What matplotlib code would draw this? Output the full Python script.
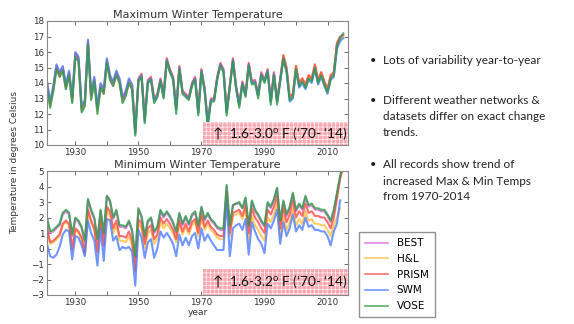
import numpy as np
import matplotlib.pyplot as plt
from matplotlib.patches import Rectangle
from matplotlib.lines import Line2D

# ============== data ==============
YEARS = np.arange(1921, 2016)   # winters 1921..2015

# maximum winter temperature, degC
MAX_BEST = [13.8, 12.5, 13.5, 14.9, 14.4, 14.8, 13.6, 14.5, 12.8, 15.7,
            15.4, 12.2, 12.6, 16.5, 13.0, 14.1, 12.2, 13.7, 13.3, 15.3,
            14.2, 13.8, 14.5, 14.0, 12.8, 13.2, 14.0, 13.6, 10.7, 14.1,
            14.4, 11.5, 14.0, 14.2, 12.8, 13.1, 14.1, 13.1, 15.4, 14.7,
            14.3, 12.3, 15.0, 13.4, 13.2, 13.0, 13.9, 14.3, 12.1, 14.8,
            13.6, 11.4, 12.9, 12.9, 14.3, 15.2, 14.8, 12.1, 13.8, 15.5,
            13.7, 12.6, 14.0, 13.2, 15.2, 14.0, 14.1, 13.2, 14.6, 14.1,
            14.8, 12.8, 14.6, 12.8, 14.2, 15.7, 14.9, 13.0, 13.2, 15.0,
            13.9, 14.2, 13.8, 14.4, 14.2, 15.1, 14.1, 14.6, 14.0, 13.5,
            14.4, 14.6, 16.5, 16.9, 17.1]
MAX_HL = [13.9, 12.6, 13.6, 15.0, 14.5, 14.9, 13.7, 14.6, 12.9, 15.8,
          15.5, 12.3, 12.7, 16.6, 13.1, 14.2, 12.3, 13.8, 13.4, 15.4,
          14.3, 13.9, 14.6, 14.1, 12.9, 13.3, 14.1, 13.7, 10.8, 14.2,
          14.5, 11.6, 14.1, 14.3, 12.9, 13.2, 14.2, 13.2, 15.5, 14.8,
          14.3, 12.3, 15.0, 13.4, 13.2, 13.0, 13.9, 14.3, 12.1, 14.8,
          13.6, 11.4, 12.9, 12.9, 14.3, 15.2, 14.8, 12.1, 13.8, 15.5,
          13.7, 12.6, 14.0, 13.2, 15.2, 14.0, 14.1, 13.2, 14.6, 14.1,
          14.8, 12.8, 14.6, 12.8, 14.2, 15.8, 15.0, 13.1, 13.3, 15.1,
          14.0, 14.3, 13.9, 14.5, 14.3, 15.2, 14.2, 14.7, 14.1, 13.6,
          14.5, 14.7, 16.5, 16.9, 17.1]
MAX_PRISM = [14.0, 12.7, 13.7, 15.1, 14.6, 15.0, 13.8, 14.7, 13.0, 15.9,
             15.6, 12.4, 12.8, 16.7, 13.2, 14.3, 12.4, 13.9, 13.5, 15.5,
             14.4, 14.0, 14.7, 14.2, 13.0, 13.4, 14.2, 13.8, 10.9, 14.3,
             14.6, 11.7, 14.2, 14.4, 13.0, 13.3, 14.3, 13.3, 15.6, 14.9,
             14.4, 12.4, 15.1, 13.5, 13.3, 13.1, 14.0, 14.4, 12.2, 14.9,
             13.7, 11.5, 13.0, 13.0, 14.4, 15.3, 14.9, 12.2, 13.9, 15.6,
             13.8, 12.7, 14.1, 13.3, 15.3, 14.1, 14.2, 13.3, 14.7, 14.2,
             14.9, 12.9, 14.7, 12.9, 14.3, 15.8, 15.0, 13.1, 13.3, 15.1,
             14.0, 14.3, 13.9, 14.5, 14.3, 15.2, 14.2, 14.7, 14.1, 13.6,
             14.5, 14.7, 16.6, 17.0, 17.1]
MAX_SWM = [14.1, 12.8, 13.8, 15.2, 14.7, 15.1, 13.9, 14.8, 13.1, 16.0,
           15.7, 12.5, 12.9, 16.8, 13.3, 14.4, 12.5, 14.0, 13.6, 15.6,
           14.5, 14.1, 14.8, 14.3, 13.1, 13.5, 14.3, 13.9, 10.8, 14.2,
           14.5, 11.6, 14.1, 14.3, 12.9, 13.2, 14.2, 13.2, 15.5, 14.8,
           14.3, 12.3, 15.0, 13.4, 13.2, 13.0, 13.9, 14.3, 12.1, 14.8,
           13.6, 11.4, 12.9, 12.9, 14.3, 15.2, 14.8, 12.1, 13.8, 15.5,
           13.7, 12.6, 14.0, 13.2, 15.2, 14.0, 14.1, 13.2, 14.6, 14.1,
           14.8, 12.8, 14.6, 12.8, 14.2, 15.5, 14.7, 12.8, 13.0, 14.8,
           13.7, 14.0, 13.6, 14.2, 14.0, 14.9, 13.9, 14.4, 13.8, 13.3,
           14.2, 14.4, 16.2, 16.7, 16.9]
MAX_VOSE = [13.8, 12.4, 13.5, 14.9, 14.4, 14.8, 13.6, 14.5, 12.7, 15.7,
            15.4, 12.1, 12.5, 16.5, 12.9, 14.1, 12.0, 13.7, 13.3, 15.3,
            14.2, 13.8, 14.5, 14.0, 12.7, 13.2, 14.0, 13.6, 10.6, 14.1,
            14.4, 11.4, 14.0, 14.2, 12.7, 13.1, 14.1, 13.0, 15.4, 14.7,
            14.2, 12.0, 14.9, 13.3, 13.1, 12.9, 13.8, 14.2, 11.9, 14.7,
            13.5, 11.1, 12.8, 12.8, 14.2, 15.1, 14.7, 11.9, 13.7, 15.4,
            13.6, 12.4, 13.9, 13.1, 15.1, 13.9, 14.0, 13.0, 14.5, 14.0,
            14.7, 12.6, 14.5, 12.6, 14.1, 15.6, 14.8, 12.9, 13.1, 14.9,
            13.8, 14.1, 13.7, 14.3, 14.1, 15.0, 14.0, 14.5, 13.9, 13.4,
            14.3, 14.5, 16.4, 16.9, 17.2]

# minimum winter temperature, degC (nan = no value)
MIN_BEST = [1.9, 1.0, 1.1, 1.3, 1.5, 2.2, 2.4, 2.2, 0.8, 1.9,
            1.7, 1.3, 0.4, 3.1, 2.4, 1.9, 0.5, 2.4, 0.9, 3.4,
            3.0, 1.9, 2.4, 1.4, 1.4, 1.3, 1.7, 1.1, -0.6, 2.5,
            2.0, 0.7, 1.7, 1.9, 1.0, 1.3, 2.4, 2.0, 2.3, 2.0,
            1.6, 1.0, 2.2, 1.5, 2.0, 1.5, 2.1, 2.3, 1.4, 2.6,
            1.8, 2.2, 1.8, 1.6, 1.3, 1.2, 1.2, 4.0, 1.4, 2.8,
            2.9, 2.9, 2.6, 3.2, 1.4, 3.0, 2.4, 2.1, 1.7, 1.4,
            2.9, 2.6, 3.1, 3.9, 1.7, 3.0, 2.1, 2.6, 3.5, 2.4,
            2.8, 2.5, 3.3, 2.7, 2.8, 2.5, 2.5, 2.4, 2.4, 2.1,
            1.7, 2.4, 3.5, 4.6, 5.3]
MIN_HL = [1.2, 0.3, 0.4, 0.6, 0.8, 1.5, 1.7, 1.5, -0.1, 1.2,
          1.0, 0.6, -0.4, 2.4, 1.7, 1.2, -0.3, 1.7, 0.1, 2.6,
          2.1, 1.0, 1.5, 0.5, 0.5, 0.4, 0.8, 0.2, -1.5, 1.6,
          1.3, 0.0, 1.0, 1.2, 0.3, 0.6, 1.7, 1.3, 1.6, 1.3,
          1.0, 0.4, 1.6, 0.9, 1.4, 0.9, 1.5, 1.7, 0.8, 2.0,
          1.2, 1.6, 1.2, 1.0, 0.7, 0.6, 0.6, 3.4, 0.8, 2.1,
          2.2, 2.3, 1.9, 2.6, 0.5, 2.1, 1.5, 1.2, 0.8, 0.5,
          2.0, 1.7, 2.2, 2.9, 0.8, 2.1, 1.2, 1.7, 2.6, 1.5,
          1.9, 1.6, 2.4, 1.8, 1.9, 1.6, 1.6, 1.5, 1.5, 1.2,
          0.8, 1.5, 2.0, 2.6, np.nan]
MIN_PRISM = [1.3, 0.4, 0.5, 0.7, 0.9, 1.6, 1.8, 1.6, 0.0, 1.3,
             1.1, 0.7, -0.3, 2.5, 1.8, 1.3, -0.2, 1.8, 0.2, 2.7,
             2.4, 1.3, 1.8, 0.8, 0.8, 0.7, 1.1, 0.5, -1.4, 1.9,
             1.6, 0.3, 1.3, 1.5, 0.6, 0.9, 2.0, 1.6, 1.9, 1.6,
             1.2, 0.6, 1.8, 1.1, 1.6, 1.1, 1.7, 1.9, 1.0, 2.2,
             1.4, 1.8, 1.4, 1.2, 0.9, 0.8, 0.8, 3.6, 1.0, 2.3,
             2.4, 2.5, 2.1, 2.8, 1.0, 2.6, 2.0, 1.7, 1.3, 1.0,
             2.5, 2.2, 2.7, 3.4, 1.3, 2.6, 1.7, 2.2, 3.1, 2.0,
             2.4, 2.1, 2.9, 2.3, 2.4, 2.1, 2.1, 2.0, 2.0, 1.7,
             1.3, 2.0, 3.2, 4.5, 5.3]
MIN_SWM = [0.3, -0.5, -0.6, -0.4, 0.1, 0.9, 1.2, 1.1, -0.7, 0.8,
           0.7, 0.2, -0.5, 1.8, 1.0, 0.5, -1.1, 1.3, -0.8, 1.9,
           1.8, 0.5, 0.8, -0.1, 0.1, 0.0, 0.1, -0.2, -2.4, 1.2,
           0.7, -0.6, 0.4, 0.6, -0.6, 0.0, 1.1, 0.7, 1.0, 0.7,
           0.3, -0.5, 0.9, 0.2, 0.7, 0.2, 0.8, 1.0, 0.0, 1.3,
           0.5, 0.9, 0.5, 0.2, -0.1, -0.1, -0.1, 3.2, -0.5, 1.3,
           1.5, 1.6, 1.2, 1.9, -0.4, 1.7, 1.1, 0.6, 0.3, -0.3,
           1.6, 1.3, 1.8, 2.5, 0.3, 1.7, 0.8, 1.3, 2.2, 1.1,
           1.5, 1.2, 2.0, 1.4, 1.5, 1.2, 1.2, 1.1, 1.1, 0.8,
           0.2, 1.1, 1.6, 3.1, np.nan]
MIN_VOSE = [2.0, 1.1, 1.2, 1.4, 1.6, 2.3, 2.5, 2.3, 0.9, 2.0,
            1.8, 1.4, 0.5, 3.2, 2.5, 2.0, 0.6, 2.5, 1.0, 3.4,
            3.1, 2.0, 2.5, 1.5, 1.5, 1.4, 1.8, 1.2, -0.5, 2.6,
            2.1, 0.8, 1.8, 2.0, 1.1, 1.4, 2.5, 2.1, 2.4, 2.1,
            1.7, 1.1, 2.3, 1.6, 2.1, 1.6, 2.2, 2.4, 1.5, 2.7,
            1.9, 2.3, 1.9, 1.7, 1.4, 1.3, 1.3, 4.1, 1.5, 2.8,
            2.9, 3.0, 2.6, 3.3, 1.5, 3.1, 2.5, 2.2, 1.8, 1.5,
            3.0, 2.7, 3.2, 3.9, 1.8, 3.1, 2.2, 2.7, 3.6, 2.5,
            2.9, 2.6, 3.4, 2.8, 2.9, 2.6, 2.6, 2.5, 2.5, 2.2,
            1.8, 2.5, 3.6, 4.7, 5.4]

DATASETS = ['BEST', 'H&L', 'PRISM', 'SWM', 'VOSE']
COLORS = ['#dd66dd', '#ffbf40', '#ff4a4a', '#4f7cff', '#2e9e4a']

MAX_SERIES = [MAX_BEST, MAX_HL, MAX_PRISM, MAX_SWM, MAX_VOSE]
MIN_SERIES = [MIN_BEST, MIN_HL, MIN_PRISM, MIN_SWM, MIN_VOSE]

BULLETS = [
    ['Lots of variability year-to-year'],
    ['Different weather networks &', 'datasets differ on exact change', 'trends.'],
    ['All records show trend of', 'increased Max & Min Temps', 'from 1970-2014'],
]
# ===========================================================

plt.rcParams['mathtext.fontset'] = 'custom'
plt.rcParams['mathtext.rm'] = 'Lato'
plt.rcParams['mathtext.default'] = 'rm'
plt.rcParams['hatch.linewidth'] = 0.4

SLIDE_FONT = ['Lato', 'DejaVu Sans']
GRAY = '#333333'

W, H = 574, 324
fig = plt.figure(figsize=(W / 100, H / 100), dpi=100)


def px_axes(left, top, right, bottom):
    return fig.add_axes([left / W, 1 - bottom / H, (right - left) / W, (bottom - top) / H])


def style_axes(ax, ylo, yhi):
    ax.set_xlim(1921, 2016.5)
    ax.set_ylim(ylo, yhi)
    ax.set_xticks(np.arange(1930, 2011, 10))
    ax.set_xticklabels(['1930', '', '1950', '', '1970', '', '1990', '', '2010'])
    ax.set_yticks(np.arange(ylo, yhi + 1, 1))
    ax.tick_params(direction='in', top=True, right=True, length=3, width=0.6,
                   labelsize=6.3, colors='#555555', labelcolor=GRAY, pad=2)
    for sp in ax.spines.values():
        sp.set_color('#888888')
        sp.set_linewidth(0.8)


def change_box(ax, ylo, ytop, label):
    x0 = 1970.5
    ax.add_patch(Rectangle((x0, ylo), 2016.5 - x0, ytop - ylo, facecolor='#f7a9b2',
                           edgecolor='white', hatch='++++', linewidth=0, zorder=5))
    ax.text(1973.3, (ylo + ytop) / 2, label, fontsize=9.8, family=SLIDE_FONT,
            color='#111111', va='center', ha='left', zorder=6)


ax1 = px_axes(47, 21, 348, 145)
ax2 = px_axes(47, 171, 348, 295)

for vals, c in zip(MAX_SERIES, COLORS):
    ax1.plot(YEARS, vals, color=c, lw=1.5, alpha=0.8)
for vals, c in zip(MIN_SERIES, COLORS):
    ax2.plot(YEARS, vals, color=c, lw=1.5, alpha=0.8)

style_axes(ax1, 10, 18)
style_axes(ax2, -3, 5)
ax1.set_title('Maximum Winter Temperature', fontsize=8, color=GRAY, pad=2)
ax2.set_title('Minimum Winter Temperature', fontsize=8, color=GRAY, pad=2)
ax2.set_xlabel('year', fontsize=6.5, color=GRAY, labelpad=1)

change_box(ax1, 10, 11.5, '\u2191  1.6-3.0$^{\\mathrm{o}}$ F (\u201870- \u201814)')
change_box(ax2, -3, -1.3, '\u2191  1.6-3.2$^{\\mathrm{o}}$ F (\u201870- \u201814)')

fig.text(15 / W, 1 - 162 / H, 'Temperature in degrees Celsius', rotation=90,
         fontsize=6.5, color=GRAY, ha='center', va='center')

# legend sits outside the axes, bottom right of the plots
handles = [Line2D([], [], color=c, lw=1.2, alpha=0.8) for c in COLORS]
fig.legend(handles, DATASETS, loc='upper left', bbox_to_anchor=(359 / W, 1 - 232 / H),
           fontsize=7.5, frameon=True, fancybox=False, edgecolor='#777777',
           handlelength=2.2, handletextpad=0.8, labelspacing=0.55, borderpad=0.6,
           borderaxespad=0)

# bullet text on the right
line_y = [[61], [100, 116.5, 132], [165, 181.5, 197]]
for lines, ys in zip(BULLETS, line_y):
    fig.text(370 / W, 1 - ys[0] / H, '\u2022', fontsize=8, family=SLIDE_FONT,
             color='#222222', va='center', ha='left')
    for txt, y in zip(lines, ys):
        fig.text(383 / W, 1 - y / H, txt, fontsize=8.5, family=SLIDE_FONT,
                 color='#222222', va='center', ha='left')

fig.savefig('out.png', dpi=100)
